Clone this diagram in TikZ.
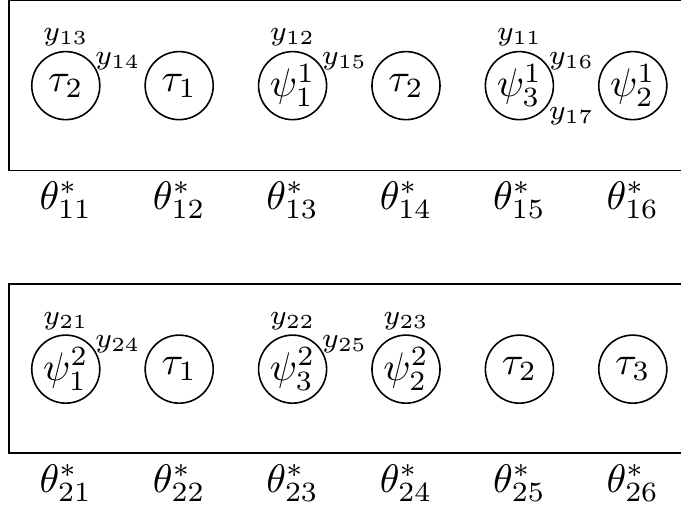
\documentclass[tikz,border=0pt]{standalone}
\usepackage{amsmath}
\usepackage{amssymb}

\tikzset{
  state/.style={draw,circle,minimum size=0.6cm,inner sep=0pt},
  ylab/.style={font=\scriptsize,inner sep=1pt},
  ylabne/.style={ylab,anchor=west},
  ylabse/.style={ylab,anchor=west,yshift=-1.5pt}
}

\begin{document}
\begin{tikzpicture}
\useasboundingbox (0,-4.489) rectangle (6.005,0.005);
% draw first row
\draw (6.3,0) -- (0.08,0) -- (0.08,-1.5) -- (6.3,-1.5);
\node[state,label={[ylab]above:$y_{13}$},label={[ylabne]45:$y_{14}$}] (c11) at (0.58,-0.75) {$\tau_2$};
\node[state] (c12) at (1.58,-0.75) {$\tau_1$};
\node[state,label={[ylab]above:$y_{12}$},label={[ylabne]45:$y_{15}$}] (c13) at (2.58,-0.75) {$\psi_1^1$};
\node[state] (c14) at (3.58,-0.75) {$\tau_2$};
\node[state,label={[ylab]above:$y_{11}$},label={[ylabne]45:$y_{16}$},label={[ylabse]-45:$y_{17}$}] (c15) at (4.58,-0.75) {$\psi_3^1$};
\node[state] (c16) at (5.58,-0.75) {$\psi_2^1$};
% draw first row parameters
\node (t11) at (0.58,-1.76) {$\theta^*_{11}$};
\node (t12) at (1.58,-1.76) {$\theta^*_{12}$};
\node (t13) at (2.58,-1.76) {$\theta^*_{13}$};
\node (t14) at (3.58,-1.76) {$\theta^*_{14}$};
\node (t15) at (4.58,-1.76) {$\theta^*_{15}$};
\node (t16) at (5.58,-1.76) {$\theta^*_{16}$};
% draw second row
\draw (6.3,-2.5) -- (0.08,-2.5) -- (0.08,-3.99) -- (6.3,-3.99);
\node[state,label={[ylab]above:$y_{21}$},label={[ylabne]45:$y_{24}$}] (c21) at (0.58,-3.25) {$\psi_1^2$};
\node[state] (c22) at (1.58,-3.25) {$\tau_1$};
\node[state,label={[ylab]above:$y_{22}$},label={[ylabne]45:$y_{25}$}] (c23) at (2.58,-3.25) {$\psi_3^2$};
\node[state,label={[ylab]above:$y_{23}$}] (c24) at (3.58,-3.25) {$\psi_2^2$};
\node[state] (c25) at (4.58,-3.25) {$\tau_2$};
\node[state] (c26) at (5.58,-3.25) {$\tau_3$};
% draw second row parameters
\node (t21) at (0.58,-4.255) {$\theta^*_{21}$};
\node (t22) at (1.58,-4.255) {$\theta^*_{22}$};
\node (t23) at (2.58,-4.255) {$\theta^*_{23}$};
\node (t24) at (3.58,-4.255) {$\theta^*_{24}$};
\node (t25) at (4.58,-4.255) {$\theta^*_{25}$};
\node (t26) at (5.58,-4.255) {$\theta^*_{26}$};
\end{tikzpicture}
\end{document}
